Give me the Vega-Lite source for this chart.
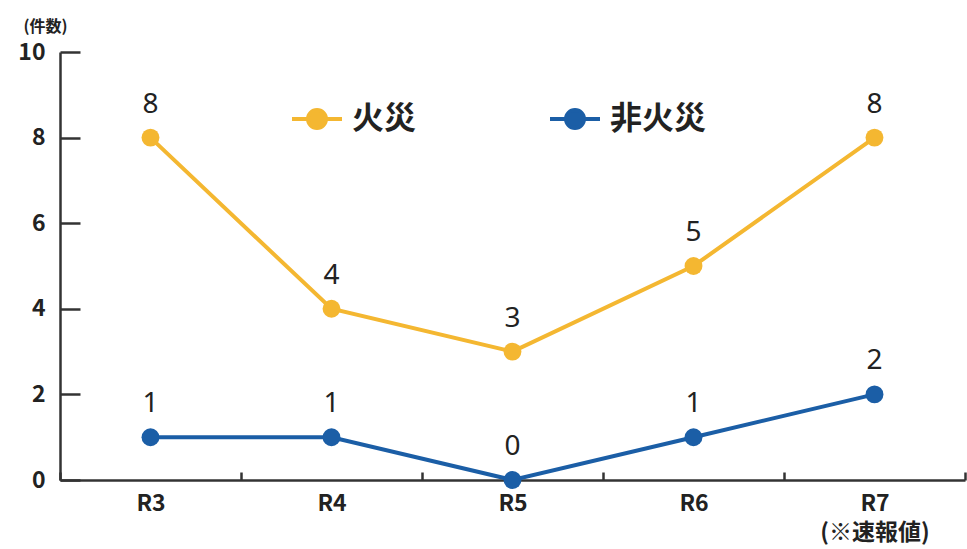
{
  "$schema": "https://vega.github.io/schema/vega-lite/v6.json",
  "width": 905,
  "height": 428,
  "autosize": {"type": "none"},
  "padding": {"left": 60, "top": 52, "right": 2, "bottom": 69},
  "background": "white",
  "config": {"view": {"stroke": null}, "font": "Noto Sans CJK JP"},
  "data": {
    "values": [
      {"year": "R3", "type": "火災", "value": 8},
      {"year": "R4", "type": "火災", "value": 4},
      {"year": "R5", "type": "火災", "value": 3},
      {"year": "R6", "type": "火災", "value": 5},
      {"year": "R7", "type": "火災", "value": 8},
      {"year": "R3", "type": "非火災", "value": 1},
      {"year": "R4", "type": "非火災", "value": 1},
      {"year": "R5", "type": "非火災", "value": 0},
      {"year": "R6", "type": "非火災", "value": 1},
      {"year": "R7", "type": "非火災", "value": 2}
    ]
  },
  "encoding": {
    "x": {
      "field": "year",
      "type": "nominal",
      "sort": null,
      "bandPosition": 0.5,
      "scale": {"type": "band", "paddingInner": 0, "paddingOuter": 0},
      "axis": {
        "title": null,
        "labelAngle": 0,
        "labelFontSize": 23,
        "labelFontWeight": "bold",
        "labelColor": "#222",
        "labelPadding": 20,
        "labelLineHeight": 29,
        "labelExpr": "datum.label == 'R7' ? ['R7', '(※速報値)'] : datum.label",
        "tickBand": "extent",
        "tickSize": -8,
        "tickColor": "#333",
        "tickWidth": 2.5,
        "domainColor": "#333",
        "domainWidth": 2.5,
        "grid": false
      }
    },
    "y": {
      "field": "value",
      "type": "quantitative",
      "scale": {"domain": [0, 10]},
      "axis": {
        "values": [0, 2, 4, 6, 8, 10],
        "title": "(件数)",
        "titleAngle": 0,
        "titleX": -15,
        "titleY": -26,
        "titleAlign": "center",
        "titleBaseline": "middle",
        "titleFontSize": 16,
        "titleFontWeight": "bold",
        "titleColor": "#222",
        "labelFontSize": 23,
        "labelFontWeight": "bold",
        "labelColor": "#222",
        "labelPadding": 35,
        "tickSize": -20,
        "tickColor": "#333",
        "tickWidth": 2.5,
        "domainColor": "#333",
        "domainWidth": 2.5,
        "grid": false
      }
    },
    "color": {
      "field": "type",
      "type": "nominal",
      "scale": {"domain": ["火災", "非火災"], "range": ["#F4B731", "#1B5EA6"]},
      "legend": {
        "orient": "none",
        "legendX": 230,
        "legendY": 40,
        "direction": "horizontal",
        "title": null,
        "symbolType": "M-1,0H1M0,-0.36A0.36,0.36 0 1,1 0,0.36A0.36,0.36 0 1,1 0,-0.36",
        "symbolSize": 2500,
        "symbolStrokeWidth": 4,
        "labelFontSize": 32,
        "labelFontWeight": "bold",
        "labelColor": "#222",
        "labelOffset": 8,
        "labelLimit": 300,
        "columnPadding": 125,
        "encode": {
          "symbols": {
            "update": {
              "fill": {"scale": "color", "field": "value"},
              "stroke": {"scale": "color", "field": "value"},
              "opacity": {"value": 1}
            }
          }
        }
      }
    }
  },
  "layer": [
    {"mark": {"type": "line", "strokeWidth": 4}},
    {"mark": {"type": "point", "filled": true, "size": 320, "opacity": 1}},
    {
      "mark": {"type": "text", "dy": -33, "fontSize": 28, "font": "Noto Sans", "color": "#222"},
      "encoding": {"text": {"field": "value", "type": "quantitative"}, "color": {"value": "#222"}}
    }
  ]
}
